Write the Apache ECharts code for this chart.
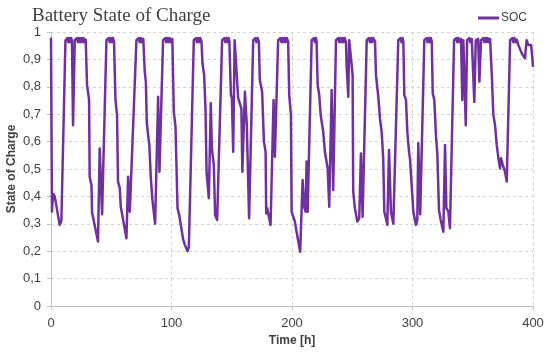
<!DOCTYPE html>
<html>
<head>
<meta charset="utf-8">
<script src="https://cdn.jsdelivr.net/npm/echarts@6/dist/echarts.min.js"></script>
<style>html,body{margin:0;padding:0;background:#fff;}#c{width:550px;height:356px;}</style>
</head>
<body>
<div id="c"></div>
<script>
// Tick labels
const xTicks = [0, 100, 200, 300, 400];
const yTickLabels = ['0','0,1','0,2','0,3','0,4','0,5','0,6','0,7','0,8','0,9','1'];
const seriesName = 'SOC';

// SOC samples [time h, state of charge], per charge cycle
const cycle01 = [[0,0.98],[0.8,0.345],[1.7,0.41],[3.1,0.40],[7.2,0.296],[8.6,0.31],
  [12,0.97],[12.8,0.963],[13.6,0.978],[14.4,0.963],[15.2,0.978],[16,0.963],[16.8,0.978],[17.4,0.968],
  [18.3,0.66],[19.7,0.97],[20.6,0.963],[21.5,0.978],[22.4,0.963],[23.3,0.978],[24.2,0.963],[25.1,0.978],[26,0.963],[26.9,0.978],[27.8,0.963],[28.8,0.972]];
const cycle02 = [[29.9,0.807],[31.6,0.752],[32.1,0.472],[33.6,0.44],[34.1,0.34],[39,0.235],[40.4,0.575],[42.4,0.335],
  [46,0.97],[46.9,0.963],[47.8,0.978],[48.7,0.963],[49.6,0.978],[50.5,0.963],[51.4,0.978],[52.3,0.965]];
const cycle03 = [[53.5,0.752],[54.8,0.697],[55.6,0.454],[57.1,0.43],[57.9,0.362],[62.6,0.247],[64,0.472],[65.4,0.344],
  [70.9,0.97],[71.8,0.963],[72.7,0.978],[73.6,0.963],[74.5,0.978],[75.4,0.963],[76.6,0.975]];
const cycle04 = [[77.8,0.855],[78.7,0.82],[79.5,0.67],[80.7,0.62],[81.6,0.59],[82.8,0.47],[84.1,0.39],[86.4,0.30],[88.9,0.764],[90,0.49],
  [93,0.97],[93.9,0.963],[94.8,0.978],[95.7,0.963],[96.6,0.978],[97.5,0.963],[98.4,0.978],[99.3,0.963],[100.7,0.975]];
const cycle05 = [[101.9,0.71],[103.3,0.655],[104.2,0.50],[105,0.357],[106.5,0.33],[109.6,0.245],[111,0.224],[113.3,0.20],[114.4,0.215],
  [118.5,0.97],[119.4,0.963],[120.3,0.978],[121.2,0.963],[122.1,0.978],[123,0.963],[123.9,0.978],[124.9,0.965]];
const cycle06 = [[125.7,0.886],[127.1,0.843],[128.2,0.722],[129.1,0.49],[131,0.393],[132.6,0.74],[133.5,0.575],[135.1,0.515],[136.2,0.332],[137.9,0.314],
  [142,0.97],[142.9,0.963],[143.8,0.978],[144.7,0.963],[145.6,0.978],[146.5,0.963],[147.4,0.978],[148,0.968]];
const cycle07 = [[149.3,0.77],[150.1,0.76],[151.2,0.563],[152.4,0.97],[153.4,0.965],[155.3,0.76],[158,0.72],[158.8,0.49],[160.9,0.782],[162.5,0.66],[164.4,0.32],
  [167.8,0.97],[168.7,0.963],[169.6,0.978],[170.5,0.963],[171.4,0.978],[172.5,0.965]];
const cycle08 = [[173.3,0.825],[175.2,0.782],[176.7,0.6],[178.1,0.563],[178.6,0.338],[179.4,0.357],[182.2,0.296],[184.7,0.752],[185.8,0.545],
  [188.5,0.97],[189.4,0.963],[190.3,0.978],[191.2,0.963],[192.1,0.978],[193,0.963],[193.9,0.978],[194.8,0.963],[195.7,0.978],[196.8,0.965]];
const cycle09 = [[197.7,0.77],[199.1,0.697],[199.7,0.344],[202.4,0.308],[203.8,0.271],[206.8,0.198],[208.8,0.46],[210.1,0.362],[211.3,0.344],[212.1,0.527],[213,0.344],
  [216.3,0.97],[217.2,0.963],[218.1,0.978],[219,0.963],[219.9,0.978],[220.4,0.968]];
const cycle10 = [[221.3,0.807],[222.6,0.77],[223.8,0.697],[225.9,0.636],[227.3,0.563],[229.6,0.502],[230.9,0.362],[232.9,0.788],[234.2,0.423],
  [236.5,0.97],[237.4,0.963],[238.3,0.978],[239.2,0.963],[240.1,0.978],[241,0.963],[241.9,0.978],[242.8,0.963],[243.7,0.978],[244.8,0.965]];
const cycle11 = [[245.3,0.88],[246.7,0.764],[247.5,0.97],[248.7,0.97],[249.5,0.88],[250.3,0.843],[250.8,0.417],[252.2,0.357],[254.2,0.308],[255.8,0.32],[257.2,0.557],[258.6,0.326],
  [262,0.97],[262.9,0.963],[263.8,0.978],[264.7,0.963],[265.6,0.978],[266.5,0.963],[267.4,0.978],[268.9,0.965]];
const cycle12 = [[269.7,0.843],[271.6,0.764],[273,0.685],[274.4,0.636],[275.7,0.539],[276.6,0.344],[278.6,0.308],[279.1,0.296],[280.5,0.569],[282.1,0.344],[284.1,0.30],
  [288.2,0.97],[289.1,0.963],[290,0.978],[290.9,0.963],[291.8,0.978],[292.4,0.965]];
const cycle13 = [[293.2,0.77],[294.6,0.752],[295.7,0.636],[297.1,0.563],[297.9,0.539],[299.3,0.442],[300.7,0.344],[302.9,0.296],[304,0.314],[304.8,0.594],[306.4,0.335],
  [309.8,0.97],[310.7,0.963],[311.6,0.978],[312.5,0.963],[313.4,0.978],[314.3,0.963],[315.2,0.978],[316,0.965]];
const cycle14 = [[316.8,0.776],[318.1,0.752],[319.5,0.618],[320.6,0.557],[321.3,0.45],[322,0.35],[323.4,0.314],[325.6,0.271],[327,0.588],[328.1,0.357],[329.7,0.345],[331.1,0.284],
  [334.5,0.97],[335.4,0.963],[336.3,0.978],[337.2,0.963],[338.1,0.978],[339,0.963],[340.3,0.975]];
const cycle15 = [[341.3,0.752],[342.2,0.97],[343.2,0.97],[344.2,0.66],[345.3,0.97],[346.2,0.963],[347.1,0.978],[348,0.963],[349.2,0.975],
  [351.3,0.745],[352.5,0.97],[353.4,0.963],[354.5,0.975],[355.5,0.819],[356.9,0.97],[357.8,0.963],[358.7,0.978],[359.6,0.963],[360.5,0.978],[361.4,0.963],[362.3,0.978],[363.2,0.963],[364.4,0.975]];
const cycle16 = [[365.8,0.843],[367.1,0.697],[368.5,0.66],[369.9,0.588],[371.3,0.539],[372.7,0.502],[373.5,0.539],[374.9,0.515],[376.8,0.49],[378.2,0.454],
  [381,0.97],[381.9,0.963],[382.8,0.978],[383.7,0.963],[384.6,0.978],[385.5,0.963],[386.5,0.972],
  [387.8,0.953],[390.7,0.922],[392,0.925],[393.3,0.904],[394.7,0.97],[396.1,0.953],[398.4,0.953],[399.5,0.904],[400,0.873]];

const socData = [].concat(cycle01, cycle02, cycle03, cycle04, cycle05, cycle06, cycle07, cycle08,
  cycle09, cycle10, cycle11, cycle12, cycle13, cycle14, cycle15, cycle16);

const chart = echarts.init(document.getElementById('c'), null, {renderer: 'canvas'});
const txt = '#404040';
const axisGrey = '#bfbfbf';
const gridGrey = '#d4d4d4';
chart.setOption({
  animation: false,
  backgroundColor: '#ffffff',
  title: {
    text: 'Battery State of Charge', left: 27, top: 2,
    textStyle: {fontFamily: 'Liberation Serif', fontSize: 19, fontWeight: 'normal', color: txt}
  },
  legend: {
    data: [{name: seriesName, icon: 'rect'}], right: 18, top: 7,
    itemWidth: 21, itemHeight: 3, itemGap: 2,
    textStyle: {fontFamily: 'Liberation Sans', fontSize: 12, color: txt, padding: [0, 0, 0, -3]}
  },
  grid: {left: 51, right: 17, top: 32, bottom: 50, containLabel: false, outerBoundsMode: 'none'},
  xAxis: {
    type: 'value', min: xTicks[0], max: xTicks[xTicks.length - 1], interval: 100,
    name: 'Time [h]', nameLocation: 'middle', nameGap: 29, nameMoveOverlap: false,
    nameTextStyle: {fontFamily: 'Liberation Sans', fontWeight: 'bold', fontSize: 12, color: txt},
    axisLine: {show: true, lineStyle: {color: axisGrey, width: 1}},
    axisTick: {show: true, length: 4, lineStyle: {color: axisGrey}},
    axisLabel: {fontFamily: 'Liberation Sans', fontSize: 13, color: txt, margin: 11},
    splitLine: {show: true, lineStyle: {type: [3, 3], color: gridGrey, width: 1}}
  },
  yAxis: {
    type: 'value', min: 0, max: 1, interval: 0.1,
    name: 'State of Charge', nameLocation: 'middle', nameGap: 33, nameRotate: 90, nameMoveOverlap: false,
    nameTextStyle: {fontFamily: 'Liberation Sans', fontWeight: 'bold', fontSize: 12, color: txt},
    axisLine: {show: true, lineStyle: {color: axisGrey, width: 1}},
    axisTick: {show: true, length: 4, lineStyle: {color: axisGrey}},
    axisLabel: {fontFamily: 'Liberation Sans', fontSize: 13, color: txt, margin: 10,
      formatter: function (v) { return yTickLabels[Math.round(v * 10)]; }},
    splitLine: {show: true, lineStyle: {type: [3, 3], color: gridGrey, width: 1}}
  },
  series: [{
    name: seriesName, type: 'line', data: socData,
    showSymbol: false, symbol: 'none',
    lineStyle: {color: '#7030a0', width: 2.5, join: 'round'},
    itemStyle: {color: '#7030a0'}
  }]
});
</script>
</body>
</html>
